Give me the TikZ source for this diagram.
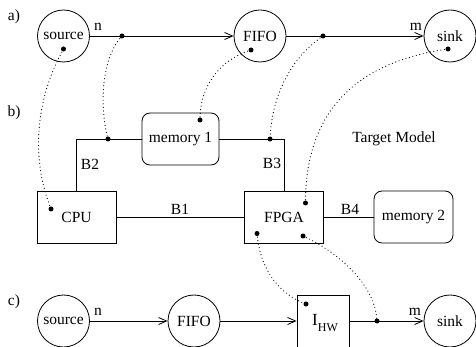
\documentclass[tikz,border=0pt]{standalone}
\usepackage{fontspec}
\setmainfont{Liberation Serif}
\usetikzlibrary{arrows.meta}
\begin{document}
\begin{tikzpicture}[x=1pt,y=-1pt,
  every node/.style={font=\fontsize{15.5}{18}\selectfont},
  proc/.style={draw, circle, minimum size=52pt, inner sep=0pt, line width=0.8pt},
  boxnode/.style={draw, rectangle, minimum width=79pt, minimum height=52pt, inner sep=0pt, line width=0.8pt},
  mem/.style={boxnode, rounded corners=8pt},
  blob/.style={circle, fill=black, inner sep=0pt, minimum size=5pt},
  wire/.style={line width=0.8pt},
  flow/.style={wire, -{Straight Barb[length=8pt,width=7pt]}},
  mapline/.style={line width=1.2pt, dash pattern=on 0pt off 3.6pt, line cap=round},
  lbl/.style={inner sep=0pt}
]
\useasboundingbox (0,0) rectangle (476,347);
\clip (0,0) rectangle (476,347);

% section labels
\node[lbl] (la) at (14,17) {a)};
\node[lbl] (lb) at (14,113) {b)};
\node[lbl] (lc) at (14,302) {c)};

% row a
\node[proc] (srcA) at (63.5,36) {source};
\node[proc] (fifoA) at (260,36) {FIFO};
\node[proc] (sinkA) at (450,36) {sink};

% row b
\node[mem, minimum width=77pt] (mem1) at (180.5,139) {memory 1};
\node[boxnode] (cpu) at (76.5,217) {CPU};
\node[boxnode] (fpga) at (284,217) {FPGA};
\node[mem] (mem2) at (413.5,217) {memory 2};
\node[lbl] (tm) at (394,139) {Target Model};

% row c
\node[proc] (srcC) at (63.5,321) {source};
\node[proc] (fifoC) at (194,321) {FIFO};
\node[boxnode, minimum width=52pt] (ihw) at (323,321) {};
\node[lbl] (ihwtext) at (325,323) {\fontsize{17}{18}\selectfont I\raisebox{-6pt}{\fontsize{12}{12}\selectfont HW}};
\node[proc] (sinkC) at (450,321) {sink};

% connectors
\draw[flow] (srcA) -- (fifoA);
\draw[flow] (fifoA) -- (sinkA);
\node[lbl] (nA) at (98,27) {n};
\node[lbl] (mA) at (416,27) {m};

\draw[wire] (cpu.north) |- (mem1.west);
\draw[wire] (mem1.east) -| (fpga.north);
\draw[wire] (cpu) -- (fpga);
\draw[wire] (fpga) -- (mem2);
\node[lbl] (b1) at (180,209) {B1};
\node[lbl] (b2) at (90,164) {B2};
\node[lbl] (b3) at (272,163) {B3};
\node[lbl] (b4) at (350,209) {B4};

\draw[flow] (srcC) -- (fifoC);
\draw[flow] (fifoC) -- (ihw);
\draw[flow] (ihw) -- (sinkC);
\node[lbl] (nC) at (98,312) {n};
\node[lbl] (mC) at (415,312) {m};

% dots
\node[blob] (dSrcA) at (63.5,49) {};
\node[blob] (dN) at (122,36) {};
\node[blob] (dFifoA) at (251,50) {};
\node[blob] (dM) at (323,36) {};
\node[blob] (dSinkA) at (448,49) {};
\node[blob] (dMem1) at (200,120) {};
\node[blob] (dB2) at (108,139) {};
\node[blob] (dB3) at (270,139) {};
\node[blob] (dCpu) at (51,209) {};
\node[blob] (dFpga1) at (305.5,203) {};
\node[blob] (dFpga2) at (257,233.5) {};
\node[blob] (dFpga3) at (303,236) {};
\node[blob] (dIhw) at (306,304) {};
\node[blob] (dOut) at (377,321) {};

% mapping curves
\draw[mapline] (dSrcA.center) .. controls (35,100) and (31,159) .. (dCpu.center);
\draw[mapline] (dN.center) .. controls (100,60) and (100,110) .. (dB2.center);
\draw[mapline] (dFifoA.center) .. controls (220,60) and (200,85) .. (dMem1.center);
\draw[mapline] (dM.center) .. controls (295,55) and (272,90) .. (dB3.center);
\draw[mapline] (dSinkA.center) .. controls (370,60) and (305,100) .. (dFpga1.center);
\draw[mapline] (dFpga2.center) .. controls (260,270) and (280,295) .. (dIhw.center);
\draw[mapline] (dFpga3.center) .. controls (330,248) and (375,280) .. (dOut.center);
\end{tikzpicture}
\end{document}
